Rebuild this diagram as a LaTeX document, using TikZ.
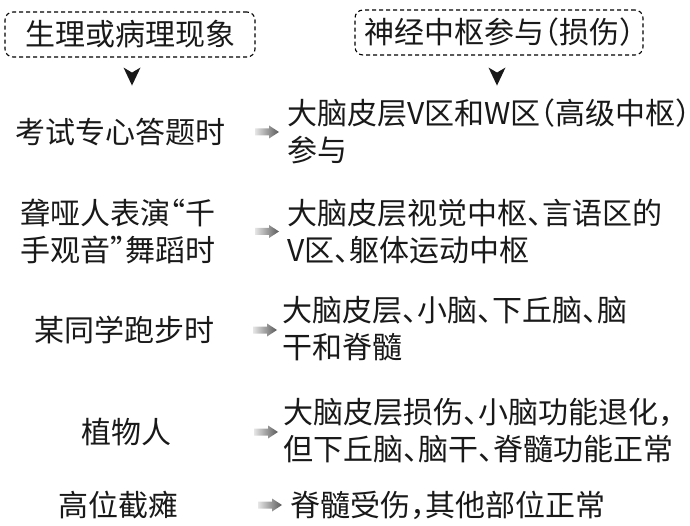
\documentclass[tikz,border=0pt]{standalone}
\usepackage{fontspec}
\newfontfamily\cjk{Noto Sans CJK SC}[CharacterWidth=AlternateHalf]
\begin{document}
\begin{tikzpicture}[x=1pt,y=-1pt,
  txt/.style={inner sep=0pt, font=\cjk\fontsize{30}{37}\selectfont, align=left, text=black!90},
  headbox/.style={txt, draw, dashed, dash pattern=on 4pt off 3pt, line width=1.1pt, rounded corners=8pt, minimum height=45pt, align=center},
  garrow/.style={left color=black!10, right color=black!65, draw=none},
  downhead/.style={fill=black!90}
]
\useasboundingbox (0,0) rectangle (690,526);

% headers
\node[headbox, minimum width=250pt] (h1) at (130,34.5) {生理或病理现象};
\node[headbox, minimum width=288pt] (h2) at (499,32.5) {神经中枢参与（损伤）};

\path (h1.south) ++(2,11) coordinate (d1);
\path (h2.south) ++(-2,13) coordinate (d2);
\fill[downhead] (d1) ++(0,4) -- ++(8.5,-5) -- ++(-8.5,18) -- ++(-8.5,-18) -- cycle;
\fill[downhead] (d2) ++(0,4) -- ++(8.5,-5) -- ++(-8.5,18) -- ++(-8.5,-18) -- cycle;

% left column
\node[txt] (l1) at (120,132) {考试专心答题时};
\node[txt, anchor=west] (l2) at (20,231.5) {聋哑人表演“千\\手观音”舞蹈时};
\node[txt] (l3) at (124,330) {某同学跑步时};
\node[txt] (l4) at (126,432) {植物人};
\node[txt] (l5) at (118,505) {高位截瘫};

% right column
\node[txt, anchor=west] (r1) at (287,131.5) {大脑皮层V区和W区（高级中枢）\\参与};
\node[txt, anchor=west] (r2) at (287,231.5) {大脑皮层视觉中枢、言语区的\\V区、躯体运动中枢};
\node[txt, anchor=west] (r3) at (282,328.5) {大脑皮层、小脑、下丘脑、脑\\干和脊髓};
\node[txt, anchor=west] (r4) at (283,431) {大脑皮层损伤、小脑功能退化，\\但下丘脑、脑干、脊髓功能正常};
\node[txt, anchor=west] (r5) at (290,505) {脊髓受伤，其他部位正常};

% connecting arrows (tips)
\path (r1.west |- l1) ++(-8,0) coordinate (a1);
\path (r2.west |- l2) ++(-8,0) coordinate (a2);
\path (r3.west |- l3) ++(-5,0) coordinate (a3);
\path (r4.west |- l4) ++(-5,0) coordinate (a4);
\path (r5.west |- l5) ++(-8,0) coordinate (a5);
\foreach \a in {a1,a2,a3,a4,a5}{
  \shade[garrow] (\a) -- ++(-10,-6.5) -- ++(0,3) -- ++(-14,0) -- ++(0,7) -- ++(14,0) -- ++(0,3) -- cycle;
}
\end{tikzpicture}
\end{document}
